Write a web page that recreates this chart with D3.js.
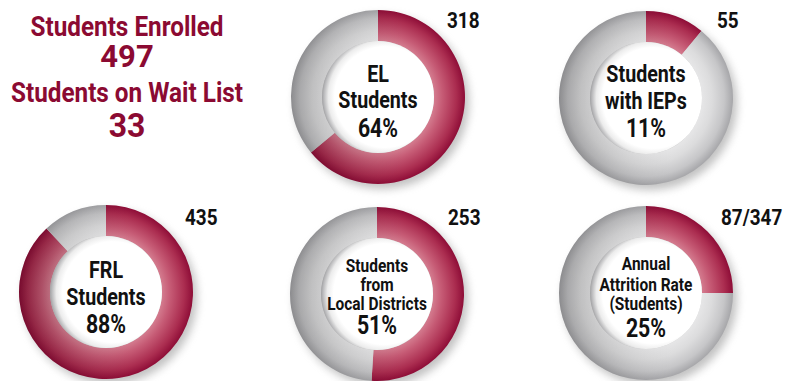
<!DOCTYPE html>
<html>
<head>
<meta charset="utf-8">
<script src="https://cdn.jsdelivr.net/npm/d3@7"></script>
<style>
  html, body { margin: 0; padding: 0; background: #fff; }
  svg { display: block; }
  text { font-family: Roboto, "Open Sans", sans-serif; font-weight: 700; }
</style>
</head>
<body>
<script>
// Enrollment summary
const summaryLabels = ["Students Enrolled", "Students on Wait List"];
const summaryValues = [497, 33];

// Donut metrics
const metricLabels = [
  ["EL", "Students"],
  ["Students", "with IEPs"],
  ["FRL", "Students"],
  ["Students", "from", "Local Districts"],
  ["Annual", "Attrition Rate", "(Students)"]
];
const metricPercents = [64, 11, 88, 51, 25];
const metricCounts = ["318", "55", "435", "253", "87/347"];

// Layout of each donut: centre, label baselines (relative), count anchor, font sizes
const donutLayout = [
  { cx: 378, cy: 97,  lines: [-15, 11], pctY: 40, labelSize: 24, cnt: [69, -69] },
  { cx: 646, cy: 98,  lines: [-16, 11], pctY: 39, labelSize: 24, cnt: [71, -70] },
  { cx: 106, cy: 292, lines: [-14, 13], pctY: 41, labelSize: 24, cnt: [79, -67] },
  { cx: 377, cy: 294, lines: [-22, -3, 16], pctY: 40, labelSize: 18, cnt: [71, -69] },
  { cx: 646, cy: 293, lines: [-23, -2, 17], pctY: 44, labelSize: 18, cnt: [75, -68] }
];

const W = 786, H = 381;
const outerR = 87, innerR = 56;
const crimson = "#8b0a32";

const svg = d3.select("body").append("svg")
  .attr("width", W).attr("height", H);

const defs = svg.append("defs");

function radial(id, stops, cx = 0, cy = 0, r = outerR) {
  const g = defs.append("radialGradient")
    .attr("id", id).attr("gradientUnits", "userSpaceOnUse")
    .attr("cx", cx).attr("cy", cy).attr("r", r);
  stops.forEach(([o, c]) => g.append("stop").attr("offset", o).attr("stop-color", c));
}

const k = innerR / outerR;
// Ring shading: light along the inner edge, darkening toward the outer rim
radial("ringRed", [[0, "#d47c8f"], [k, "#d47c8f"], [0.74, "#c65b75"], [0.9, "#ab2d50"], [1, "#8e0d37"]]);
radial("ringGray", [[0, "#e4e4e5"], [k, "#e6e6e7"], [0.76, "#dcdcdd"], [0.9, "#c6c6c8"], [1, "#a6a6a9"]]);
// Hole: white, with a shadow along its left edge
radial("hole", [[0, "#ffffff"], [0.8, "#ffffff"], [0.9, "#ececec"], [0.97, "#b9b9bb"], [1, "#a0a0a2"]], 7, 0, innerR + 7);

// Directional darkening on the left half of each ring
const side = defs.append("linearGradient")
  .attr("id", "side").attr("gradientUnits", "userSpaceOnUse")
  .attr("x1", -outerR).attr("y1", 0).attr("x2", outerR * 0.3).attr("y2", 0);
side.append("stop").attr("offset", 0).attr("stop-color", "#000").attr("stop-opacity", 0.16);
side.append("stop").attr("offset", 1).attr("stop-color", "#000").attr("stop-opacity", 0);

// Soft drop shadow
const shadow = defs.append("filter").attr("id", "shadow")
  .attr("x", "-30%").attr("y", "-30%").attr("width", "160%").attr("height", "160%");
shadow.append("feGaussianBlur").attr("stdDeviation", 4);

// Summary block
const summary = svg.append("g").attr("fill", crimson).attr("text-anchor", "middle");
const summaryRows = [
  { text: summaryLabels[0], y: 36, size: 27, sx: 0.9 },
  { text: String(summaryValues[0]), y: 67, size: 32, sx: 0.97 },
  { text: summaryLabels[1], y: 102, size: 27, sx: 0.9 },
  { text: String(summaryValues[1]), y: 137, size: 33, sx: 0.97 }
];
summaryRows.forEach(r => {
  summary.append("g")
    .attr("transform", `translate(127,${r.y}) scale(${r.sx},1)`)
    .append("text")
    .attr("font-size", r.size)
    .text(r.text);
});

const pie = d3.pie().sort(null).value(d => d);
const arc = d3.arc().innerRadius(innerR).outerRadius(outerR);
const ring = d3.arc().innerRadius(innerR).outerRadius(outerR).startAngle(0).endAngle(2 * Math.PI);

donutLayout.forEach((lay, i) => {
  const g = svg.append("g").attr("transform", `translate(${lay.cx},${lay.cy})`);

  g.append("circle")
    .attr("cx", 4).attr("cy", 5).attr("r", outerR)
    .attr("fill", "#8f8f8f").attr("opacity", 0.55)
    .attr("filter", "url(#shadow)");

  const p = metricPercents[i];
  const slices = pie([p, 100 - p]);
  g.selectAll("path.slice").data(slices).join("path")
    .attr("class", "slice")
    .attr("d", arc)
    .attr("fill", (d, j) => j === 0 ? "url(#ringRed)" : "url(#ringGray)");

  g.append("path").attr("d", ring()).attr("fill", "url(#side)");

  g.append("circle").attr("r", innerR).attr("fill", "url(#hole)");

  const lines = metricLabels[i];
  const sx = lay.labelSize < 20 ? 0.86 : 0.82;
  lines.forEach((ln, n) => {
    g.append("g")
      .attr("transform", `translate(0,${lay.lines[n]}) scale(${sx},1)`)
      .append("text")
      .attr("text-anchor", "middle")
      .attr("font-size", lay.labelSize)
      .attr("fill", "#111")
      .text(ln);
  });

  g.append("g")
    .attr("transform", `translate(0,${lay.pctY}) scale(0.82,1)`)
    .append("text")
    .attr("text-anchor", "middle")
    .attr("font-size", 26)
    .attr("fill", "#111")
    .text(p + "%");

  g.append("g")
    .attr("transform", `translate(${lay.cnt[0]},${lay.cnt[1]}) scale(0.86,1)`)
    .append("text")
    .attr("text-anchor", "start")
    .attr("font-size", 22)
    .attr("fill", "#111")
    .text(metricCounts[i]);
});
</script>
</body>
</html>
